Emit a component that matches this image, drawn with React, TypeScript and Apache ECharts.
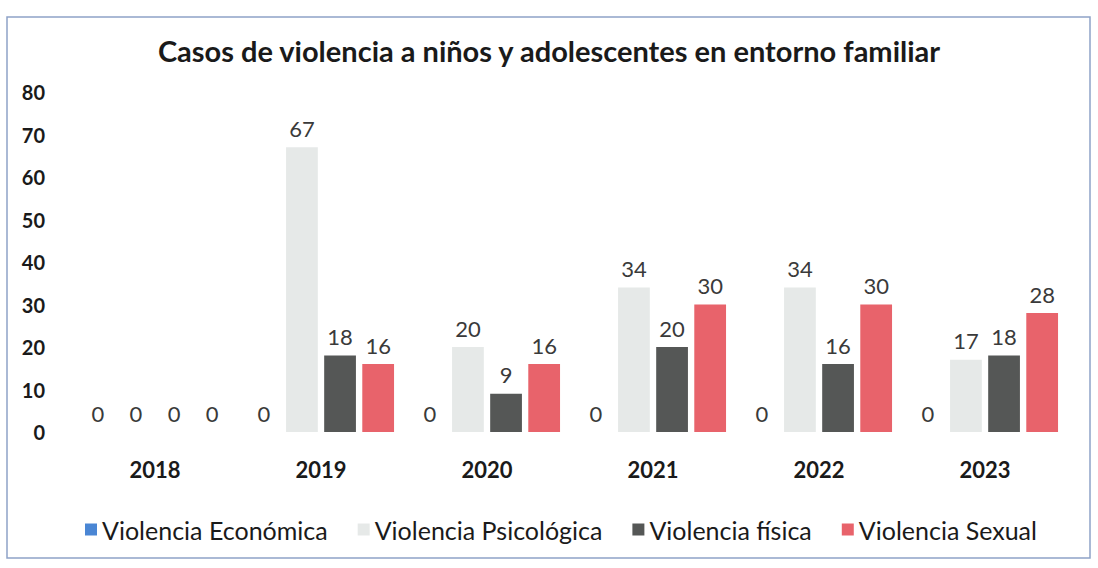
import React, { useEffect, useRef } from "react";
import * as echarts from "echarts";

const title = "Casos de violencia a niños y adolescentes en entorno familiar";
const categories = ["2018", "2019", "2020", "2021", "2022", "2023"];
const seriesNames = ["Violencia Económica", "Violencia Psicológica", "Violencia física", "Violencia Sexual"];
const economica = [0, 0, 0, 0, 0, 0];
const psicologica = [0, 67, 20, 34, 34, 17];
const fisica = [0, 18, 9, 20, 16, 18];
const sexual = [0, 16, 16, 30, 30, 28];
const colors = ["#4a86d4", "#e6e9e8", "#555756", "#e8636b"];
const yTicks = [0, 10, 20, 30, 40, 50, 60, 70, 80];

const FONT = "Lato";

export default function App() {
  const ref = useRef<HTMLDivElement>(null);
  useEffect(() => {
    if (!ref.current) return;
    const chart = echarts.init(ref.current, undefined, { renderer: "svg" });
    const data = [economica, psicologica, fisica, sexual];
    chart.setOption({
      animation: false,
      backgroundColor: "#ffffff",
      textStyle: { fontFamily: FONT },
      graphic: [
        {
          type: "rect",
          shape: { x: 7, y: 17, width: 1083, height: 541 },
          style: { fill: "none", stroke: "#8ea3c8", lineWidth: 1.5 },
          silent: true,
        },
      ],
      title: {
        text: title,
        left: "center",
        top: 31,
        textStyle: { fontFamily: FONT, fontSize: 29, fontWeight: "bold", color: "#1a1a1a" },
      },
      legend: {
        data: seriesNames,
        left: 80,
        top: 512,
        itemWidth: 12,
        itemHeight: 12,
        itemGap: 30,
        icon: "rect",
        textStyle: { fontFamily: FONT, fontSize: 25, color: "#1a1a1a" },
      },
      grid: { left: 72, right: 30, top: 92, bottom: 136 },
      xAxis: {
        type: "category",
        data: categories,
        axisLine: { show: false },
        axisTick: { show: false },
        axisLabel: { fontFamily: FONT, fontSize: 22, fontWeight: "bold", color: "#1a1a1a", margin: 26 },
      },
      yAxis: {
        type: "value",
        min: yTicks[0],
        max: yTicks[yTicks.length - 1],
        interval: 10,
        splitLine: { show: false },
        axisLine: { show: false },
        axisTick: { show: false },
        axisLabel: { fontFamily: FONT, fontSize: 20, fontWeight: "bold", color: "#1a1a1a", margin: 27 },
      },
      series: seriesNames.map((name, i) => ({
        name,
        type: "bar",
        data: data[i],
        barCategoryGap: "12%",
        barGap: "20%",
        itemStyle: { color: colors[i] },
        label: {
          show: true,
          position: "top",
          distance: 8,
          fontFamily: FONT,
          fontSize: 22,
          color: "#3a3a3a",
        },
      })),
    });
    return () => chart.dispose();
  }, []);
  return <div ref={ref} style={{ width: 1098, height: 568, position: "absolute", left: 0, top: 0 }} />;
}
